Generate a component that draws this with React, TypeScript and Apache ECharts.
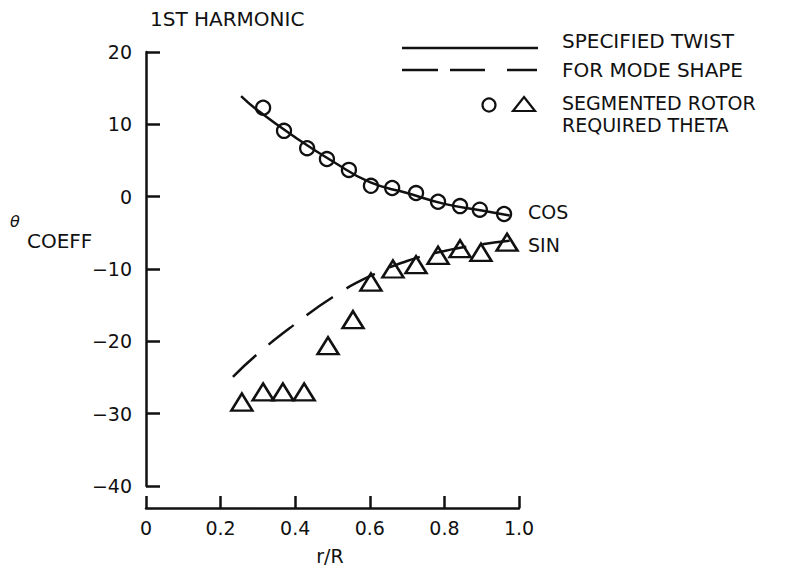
import React, { useEffect, useRef } from 'react';
import * as echarts from 'echarts';

// Axis ticks
const xTickValues = [0, 0.2, 0.4, 0.6, 0.8, 1.0];
const yTickValues = [-40, -30, -20, -10, 0, 10, 20];

// Specified twist, COS (solid)
const cosTwistX = [0.255, 0.3, 0.4, 0.5, 0.6, 0.7, 0.8, 0.9, 0.975];
const cosTwistY = [13.9, 11.9, 8.2, 4.9, 2.0, 0.5, -1.0, -1.9, -2.6];

// Specified twist, SIN (dashed)
const sinTwistX = [0.233, 0.3, 0.4, 0.5, 0.6, 0.7, 0.8, 0.9, 0.975];
const sinTwistY = [-24.9, -21.7, -17.6, -13.9, -11.0, -8.9, -7.5, -6.6, -6.1];

// Segmented rotor required theta, COS (circles)
const cosReqX = [0.314, 0.37, 0.432, 0.485, 0.544, 0.603, 0.66, 0.724, 0.783, 0.842, 0.895, 0.96];
const cosReqY = [12.3, 9.1, 6.7, 5.2, 3.7, 1.5, 1.2, 0.5, -0.7, -1.3, -1.8, -2.4];

// Segmented rotor required theta, SIN (triangles)
const sinReqX = [0.257, 0.314, 0.367, 0.424, 0.488, 0.555, 0.603, 0.662, 0.724, 0.783, 0.842, 0.898, 0.968];
const sinReqY = [-28.4, -27.0, -27.0, -27.0, -20.6, -17.0, -11.8, -10.0, -9.4, -8.1, -7.2, -7.7, -6.3];

const FONT = 'DejaVu Sans';
const INK = '#111';

const pairs = (xs: number[], ys: number[]) => xs.map((x, i) => [x, ys[i]]);

export default function App() {
  const ref = useRef<HTMLDivElement>(null);
  useEffect(() => {
    if (!ref.current) return;
    const chart = echarts.init(ref.current, undefined, { renderer: 'svg' });
    const txt = (text: string, x: number, y: number, size = 19, extra: any = {}) => ({
      type: 'text',
      x,
      y,
      style: {
        text,
        fill: INK,
        font: `${extra.italic ? 'italic ' : ''}${size}px "${FONT}"`,
        textVerticalAlign: 'middle',
        textAlign: extra.align || 'left',
      },
    });
    const lineEl = (x1: number, y1: number, x2: number, y2: number) => ({
      type: 'line',
      shape: { x1, y1, x2, y2 },
      style: { stroke: INK, lineWidth: 2.5 },
    });
    chart.setOption({
      animation: false,
      backgroundColor: '#fff',
      grid: { left: 146, top: 52, width: 373, height: 434 },
      xAxis: {
        type: 'value',
        min: xTickValues[0],
        max: xTickValues[xTickValues.length - 1],
        interval: 0.2,
        offset: 22,
        axisLine: { show: true, onZero: false, lineStyle: { color: INK, width: 2.5 } },
        axisTick: { show: true, inside: true, length: 12, lineStyle: { color: INK, width: 2.5 } },
        splitLine: { show: false },
        axisLabel: {
          margin: 10,
          color: INK,
          fontFamily: FONT,
          fontSize: 19,
          formatter: (v: number) => (v === 0 ? '0' : v.toFixed(1)),
        },
      },
      yAxis: {
        type: 'value',
        min: yTickValues[0],
        max: yTickValues[yTickValues.length - 1],
        interval: 10,
        axisLine: { show: true, onZero: false, lineStyle: { color: INK, width: 2.5 } },
        axisTick: { show: true, inside: true, length: 14, lineStyle: { color: INK, width: 2.5 } },
        splitLine: { show: false },
        axisLabel: {
          margin: 14,
          color: INK,
          fontFamily: FONT,
          fontSize: 19,
          formatter: (v: number) => String(v).replace('-', '\u2212'),
        },
      },
      series: [
        {
          type: 'line',
          data: pairs(cosTwistX, cosTwistY),
          smooth: true,
          showSymbol: false,
          lineStyle: { color: INK, width: 2.5 },
        },
        {
          type: 'line',
          data: pairs(sinTwistX, sinTwistY),
          smooth: true,
          showSymbol: false,
          lineStyle: { color: INK, width: 2.5, type: [32, 16] },
        },
        {
          type: 'scatter',
          data: pairs(cosReqX, cosReqY),
          symbol: 'circle',
          symbolSize: 14,
          itemStyle: { color: 'rgba(0,0,0,0)', borderColor: INK, borderWidth: 2.3, opacity: 1 },
        },
        {
          type: 'scatter',
          data: pairs(sinReqX, sinReqY),
          symbol: 'triangle',
          symbolSize: [21, 17],
          itemStyle: { color: 'rgba(0,0,0,0)', borderColor: INK, borderWidth: 2.5, opacity: 1 },
        },
      ],
      graphic: [
        txt('1ST HARMONIC', 150, 19, 20),
        lineEl(402, 48, 538, 48),
        lineEl(402, 70, 438, 70),
        lineEl(450, 70, 485, 70),
        lineEl(507, 70, 537, 70),
        {
          type: 'circle',
          shape: { cx: 489, cy: 105, r: 6.5 },
          style: { fill: 'none', stroke: INK, lineWidth: 2.2 },
        },
        {
          type: 'polygon',
          shape: { points: [[524, 97], [535, 111], [513, 111]] },
          style: { fill: 'none', stroke: INK, lineWidth: 2.2 },
        },
        txt('SPECIFIED TWIST', 562, 41, 20),
        txt('FOR MODE SHAPE', 562, 70, 20),
        txt('SEGMENTED ROTOR', 562, 102.5, 19),
        txt('REQUIRED THETA', 562, 125, 19),
        txt('COS', 528, 212, 19),
        txt('SIN', 528, 245, 19),
        txt('\u03b8', 10, 221, 16, { italic: true }),
        txt('COEFF', 27, 241, 20),
        txt('r/R', 330, 556, 19, { align: 'center' }),
      ],
    });
    return () => chart.dispose();
  }, []);
  return (
    <div
      ref={ref}
      style={{ position: 'fixed', left: 0, top: 0, width: 794, height: 573, background: '#fff' }}
    />
  );
}
